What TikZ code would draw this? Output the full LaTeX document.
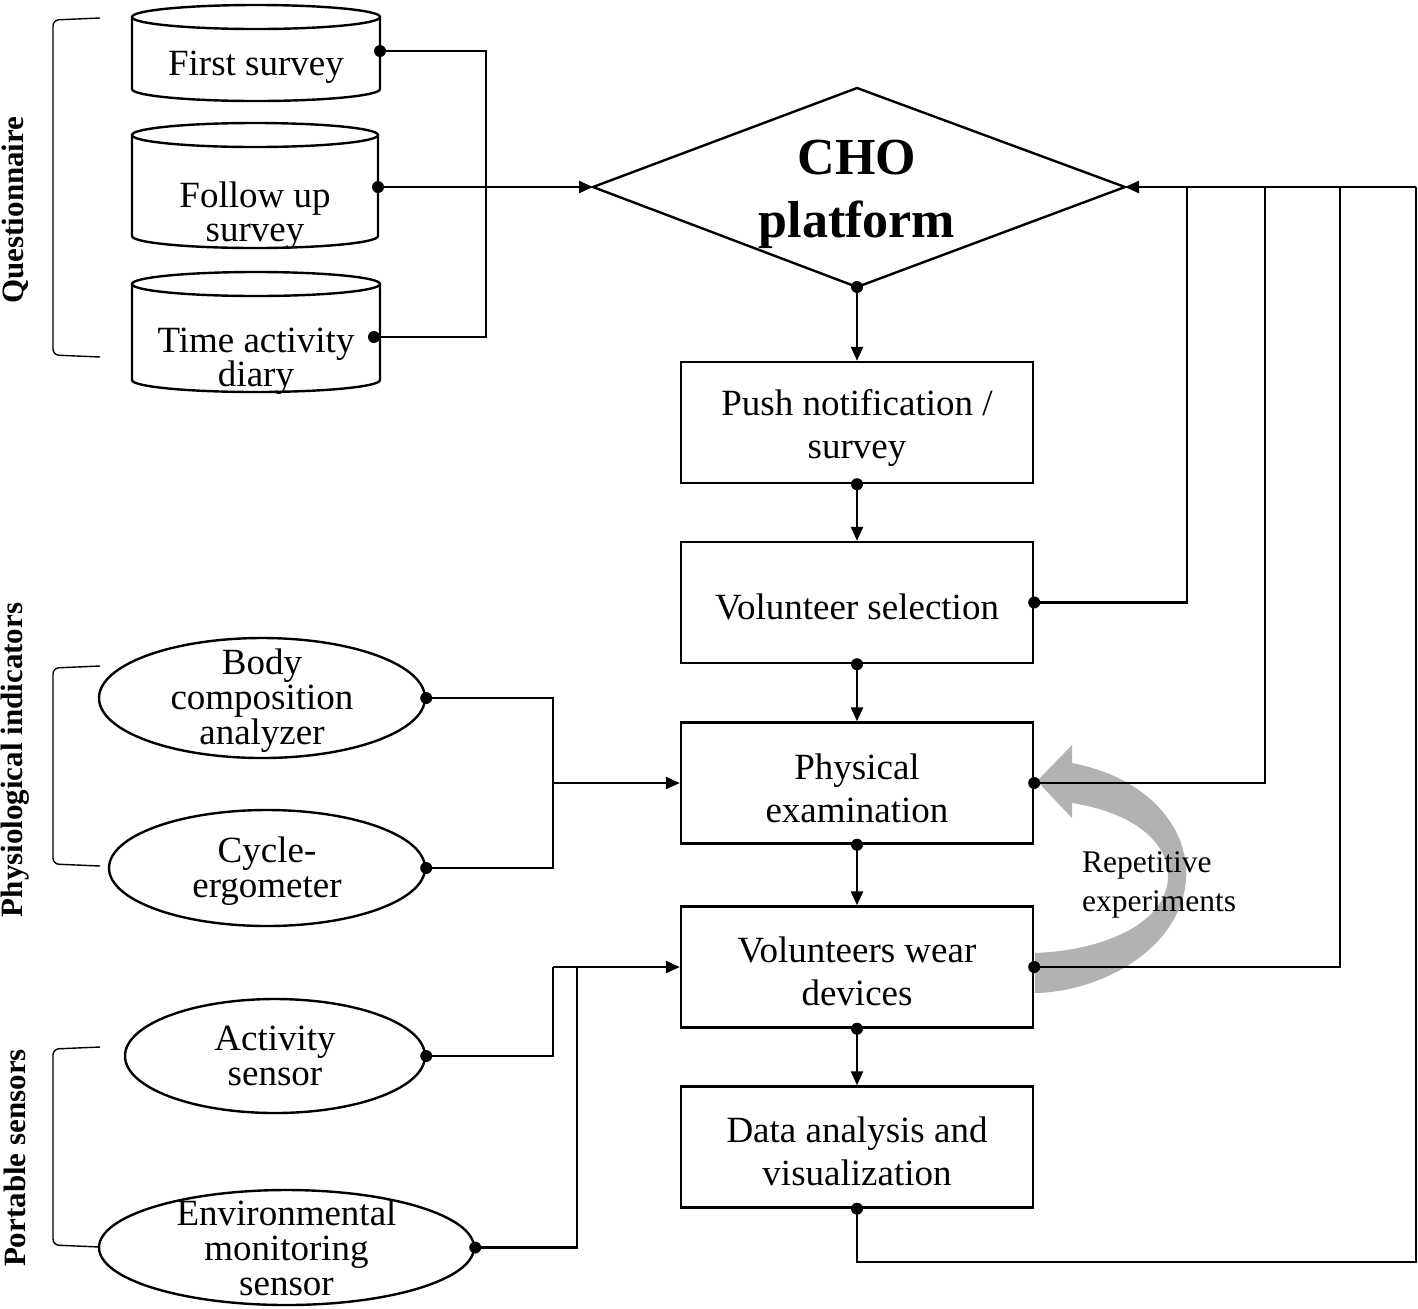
\documentclass[tikz,border=0pt]{standalone}
\usepackage{fontspec}
\setmainfont{Liberation Serif}
\usetikzlibrary{shapes.geometric,arrows.meta}
\begin{document}
\begin{tikzpicture}[x=0.5pt,y=-0.5pt, line width=1.2pt,
 box/.style={draw, minimum width=176pt, minimum height=60.5pt, inner sep=0pt},
 btxt/.style={align=center, inner sep=0pt, font=\fontsize{18.5}{21.5}\selectfont},
 ell/.style={draw, ellipse, inner sep=0pt},
 txt/.style={align=center, inner sep=0pt, font=\fontsize{18.5}{17.5}\selectfont},
 cyltxt/.style={align=center, inner sep=0pt, font=\fontsize{18.5}{17}\selectfont},
 arr/.style={-{Triangle[length=7pt,width=6pt]}},
 grp/.style={font=\fontsize{15.5}{16}\selectfont\bfseries, rotate=90, inner sep=0pt},
 brk/.style={line width=0.7pt, rounded corners=3pt}
]
\useasboundingbox (0,0) rectangle (1418,1308);

% ---------- gray repetitive arrow ----------
\fill[black!30] (1037,781) -- (1072,745) -- (1072,763)
  .. controls (1150,778) and (1190,830) .. (1186,880)
  .. controls (1180,950) and (1100,992) .. (1035,993)
  -- (1035,953)
  .. controls (1110,950) and (1168,920) .. (1168,876)
  .. controls (1168,840) and (1130,812) .. (1072,803)
  -- (1072,818) -- cycle;

% ---------- cylinders ----------
\draw (256,17) ellipse [x radius=62pt, y radius=6pt];
\draw (132,17) -- (132,89) arc[start angle=180,end angle=360,x radius=62pt,y radius=6pt] -- (380,17);
\draw (255,135) ellipse [x radius=61.5pt, y radius=6pt];
\draw (132,135) -- (132,236) arc[start angle=180,end angle=360,x radius=61.5pt,y radius=6pt] -- (378,135);
\draw (256,284) ellipse [x radius=62pt, y radius=6pt];
\draw (132,284) -- (132,380) arc[start angle=180,end angle=360,x radius=62pt,y radius=6pt] -- (380,284);

\node[cyltxt] (fs) at (256,67) {First survey};
\node[cyltxt] (fu) at (255,216) {Follow up\\survey};
\node[cyltxt] (tad) at (256,361) {Time activity\\diary};
\coordinate (c1e) at (380,51);
\coordinate (c2e) at (378,187);
\coordinate (c3e) at (374,337);

% ---------- diamond ----------
\coordinate (choW) at (593,187);
\coordinate (choE) at (1125,187);
\coordinate (choN) at (857,88);
\coordinate (choS) at (857,287);
\draw (choN) -- (choE) -- (choS) -- (choW) -- cycle;
\node[align=center, inner sep=0pt, font=\fontsize{26}{31.5}\selectfont\bfseries] (cho) at (857,194) {CHO\\platform};

% ---------- boxes ----------
\node[box] (pn) at (857,422.5) {};
\node[btxt] at ([yshift=-2.5pt]pn.center) {Push notification /\\survey};
\node[box] (vs) at (857,602.5) {};
\node[btxt] at ([yshift=-2pt]vs.center) {Volunteer selection};
\node[box] (pe) at (857,783) {};
\node[btxt] at ([yshift=-2.5pt]pe.center) {Physical\\examination};
\node[box] (vw) at (857,967) {};
\node[btxt] at ([yshift=-2pt]vw.center) {Volunteers wear\\devices};
\node[box] (da) at (857,1147) {};
\node[btxt] at ([yshift=-2pt]da.center) {Data analysis and\\visualization};

% ---------- ellipses ----------
\node[ell, minimum width=163pt, minimum height=60pt] (bca) at (262,698) {};
\node[txt] at ([yshift=-1.5pt]bca.center) {Body\\composition\\analyzer};
\node[ell, minimum width=158pt, minimum height=58pt] (cyc) at (267,868) {};
\node[txt] at ([yshift=-1.5pt]cyc.center) {Cycle-\\ergometer};
\node[ell, minimum width=150pt, minimum height=57pt] (act) at (275,1056) {};
\node[txt] at (act) {Activity\\sensor};
\node[ell, minimum width=187.5pt, minimum height=57.5pt] (env) at (286.5,1247.5) {};
\node[txt] at (env) {Environmental\\monitoring\\sensor};

% ---------- group labels and brackets ----------
\node[grp] (ql) at (15,210) {Questionnaire};
\node[grp] (pl) at (15,760) {Physiological indicators};
\node[grp] (sl) at (15,1158) {Portable sensors};
\draw[brk] (100,18) -- (53,20) -- (53,355) -- (100,357);
\draw[brk] (100,666) -- (53,668) -- (53,864) -- (100,866);
\draw[brk] (100,1047) -- (53,1049) -- (53,1245) -- (100,1247);

% ---------- connectors ----------
\coordinate (qj) at (486,187);
\draw (c1e) -| (qj);
\draw (c3e) -| (qj);
\draw[arr] (c2e) -- (choW);

\draw[arr] (choS) -- (pn.north);
\draw[arr] (pn.south) -- (vs.north);
\draw[arr] (vs.south) -- (pe.north);
\draw[arr] (pe.south) -- (vw.north);
\draw[arr] (vw.south) -- (da.north);

\coordinate (j1) at (1187,187);
\coordinate (j2) at (1265,187);
\coordinate (j3) at (1340,187);
\coordinate (j4) at (1416,187);
\coordinate (b1) at (1416,1262);
\draw (vs.east) -| (j1);
\draw (pe.east) -| (j2);
\draw (vw.east) -| (j3);
\draw (da.south) |- (b1) -- (j4);
\draw[arr] (j4) -- (choE);

\coordinate (pj) at (553,783);
\draw (bca.east) -| (pj);
\draw (cyc.east) -| (pj);
\draw[arr] (pj) -- (pe.west);
\coordinate (sj) at (553,967);
\coordinate (sj2) at (577,967);
\draw (act.east) -| (sj);
\draw (env.east) -| (sj2);
\draw[arr] (sj) -- (vw.west);

% ---------- dots ----------
\foreach \p in {c1e,c2e,c3e,choS,pn.south,vs.south,pe.south,vw.south,da.south,vs.east,pe.east,vw.east,bca.east,cyc.east,act.east,env.east}
  \fill (\p) circle (3pt);

\node[anchor=west, align=left, inner sep=0pt, font=\fontsize{15.75}{19.5}\selectfont] (rep) at (1081,885) {Repetitive\\experiments};
\end{tikzpicture}
\end{document}
